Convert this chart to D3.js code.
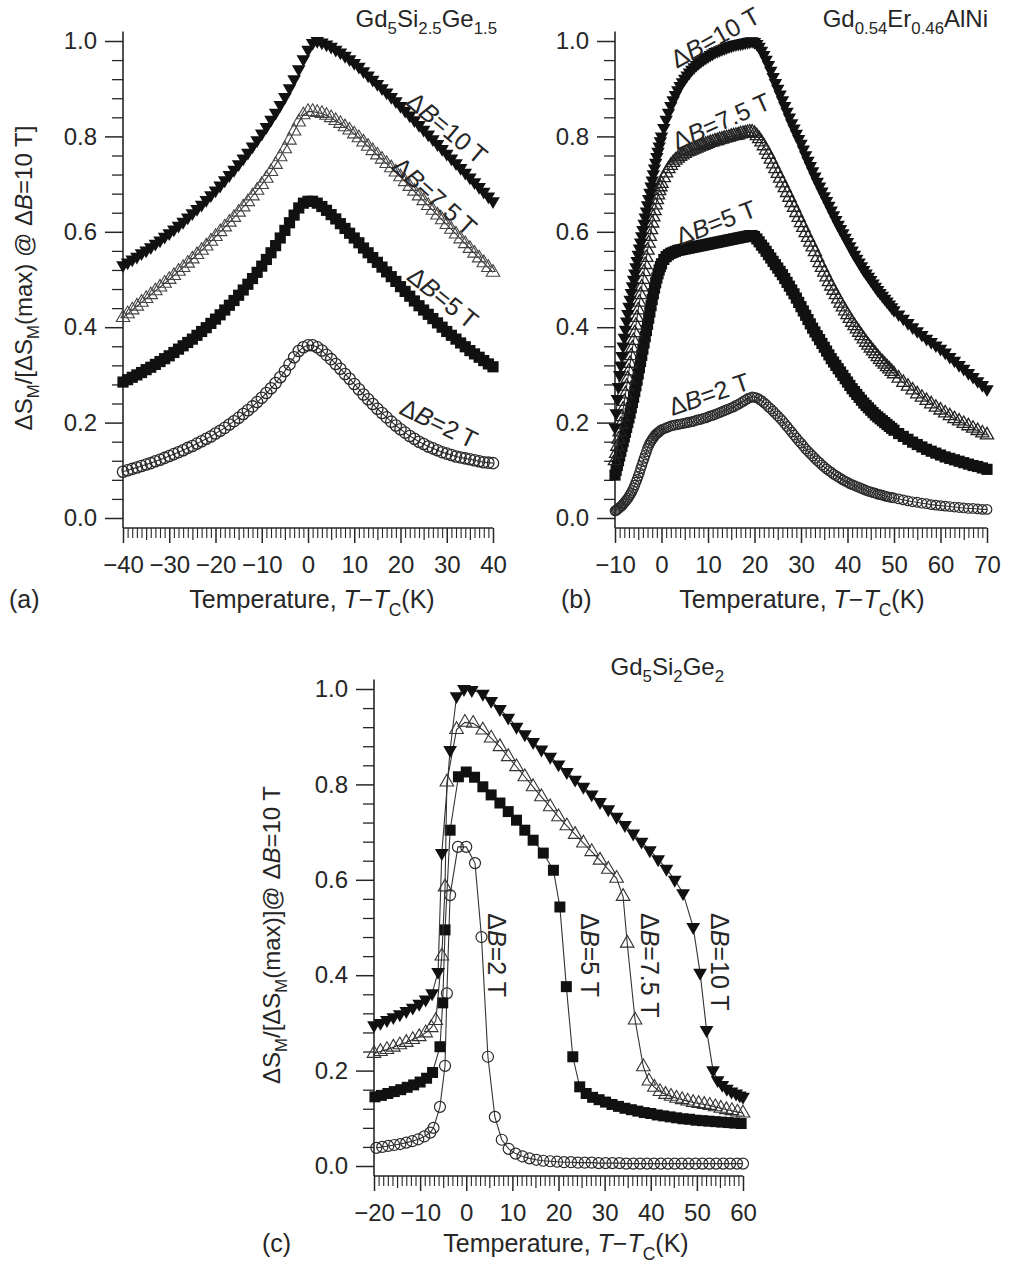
<!DOCTYPE html>
<html><head><meta charset="utf-8">
<script src="https://cdn.jsdelivr.net/npm/d3@7"></script>
<style>
body{margin:0;background:#fff}
svg{display:block}
text{font-family:"Liberation Sans",Arial,Helvetica,sans-serif;fill:#262626}
</style>
</head><body>
<svg id="chart" width="1009" height="1267"></svg>
<script>
// ---------------- DATA ----------------
// Panel (a) Gd5Si2.5Ge1.5
const TA = [-40,-39,-38,-37,-36,-35,-34,-33,-32,-31,-30,-29,-28,-27,-26,-25,-24,-23,-22,-21,-20,-19,-18,-17,-16,-15,-14,-13,-12,-11,-10,-9,-8,-7,-6,-5,-4,-3,-2,-1,0,1,2,3,4,5,6,7,8,9,10,11,12,13,14,15,16,17,18,19,20,21,22,23,24,25,26,27,28,29,30,31,32,33,34,35,36,37,38,39,40];
const A_10T = [0.530,0.536,0.542,0.548,0.555,0.561,0.568,0.575,0.582,0.590,
0.597,0.605,0.613,0.621,0.630,0.639,0.648,0.657,0.667,0.677,
0.687,0.697,0.708,0.719,0.730,0.742,0.754,0.766,0.779,0.792,
0.806,0.820,0.835,0.850,0.866,0.883,0.901,0.920,0.941,0.962,
0.982,0.996,1.000,0.997,0.993,0.988,0.982,0.976,0.969,0.962,
0.954,0.946,0.937,0.928,0.919,0.910,0.901,0.892,0.883,0.874,
0.864,0.854,0.844,0.834,0.824,0.814,0.804,0.794,0.784,0.774,
0.764,0.754,0.744,0.734,0.724,0.714,0.704,0.694,0.684,0.674,0.664];
const A_75T = [0.420,0.428,0.436,0.444,0.452,0.460,0.468,0.476,0.484,0.492,
0.500,0.508,0.517,0.525,0.534,0.543,0.552,0.561,0.570,0.580,
0.590,0.600,0.610,0.620,0.630,0.641,0.652,0.663,0.675,0.687,
0.699,0.712,0.726,0.741,0.757,0.774,0.792,0.811,0.830,0.845,
0.852,0.852,0.850,0.848,0.844,0.839,0.833,0.827,0.820,0.813,
0.805,0.797,0.788,0.779,0.770,0.761,0.752,0.743,0.734,0.725,
0.715,0.705,0.695,0.685,0.675,0.665,0.655,0.645,0.635,0.625,
0.615,0.605,0.595,0.585,0.575,0.565,0.555,0.545,0.535,0.525,0.515];
const A_5T = [0.285,0.290,0.295,0.300,0.305,0.311,0.316,0.322,0.328,0.334,
0.340,0.347,0.354,0.361,0.368,0.375,0.383,0.391,0.399,0.408,
0.417,0.426,0.436,0.446,0.456,0.467,0.478,0.490,0.502,0.515,
0.528,0.542,0.556,0.571,0.587,0.603,0.619,0.635,0.650,0.660,
0.664,0.664,0.660,0.653,0.645,0.636,0.627,0.617,0.607,0.597,
0.587,0.577,0.566,0.556,0.546,0.536,0.526,0.516,0.506,0.496,
0.485,0.475,0.465,0.455,0.445,0.436,0.427,0.418,0.409,0.400,
0.391,0.383,0.375,0.367,0.359,0.351,0.344,0.337,0.330,0.323,0.317];
const A_2T = [0.097,0.100,0.103,0.106,0.109,0.112,0.115,0.119,0.122,0.126,
0.130,0.134,0.138,0.142,0.147,0.151,0.156,0.161,0.166,0.171,
0.177,0.183,0.189,0.196,0.203,0.210,0.218,0.226,0.234,0.243,
0.252,0.262,0.272,0.283,0.295,0.308,0.322,0.337,0.350,0.358,
0.362,0.362,0.358,0.351,0.342,0.333,0.323,0.313,0.302,0.292,
0.281,0.270,0.259,0.249,0.239,0.229,0.220,0.211,0.202,0.194,
0.186,0.179,0.172,0.166,0.160,0.155,0.150,0.146,0.142,0.138,
0.135,0.132,0.129,0.127,0.125,0.123,0.121,0.119,0.117,0.116,0.115];

// Panel (b) Gd0.54Er0.46AlNi
const TB = [-10,-9.75,-9.5,-9.25,-9,-8.75,-8.5,-8.25,-8,-7.75,
-7.5,-7.25,-7,-6.75,-6.5,-6.25,-6,-5.75,-5.5,-5.25,
-5,-4.75,-4.5,-4.25,-4,-3.75,-3.5,-3.25,-3,-2.75,
-2.5,-2.25,-2,-1.75,-1.5,-1.25,-1,-0.75,-0.5,-0.25,
0,0.5,1,1.5,2,2.5,3,3.5,4,4.5,
5,5.5,6,6.5,7,7.5,8,8.5,9,9.5,
10,10.5,11,11.5,12,12.5,13,13.5,14,14.5,
15,15.5,16,16.5,17,17.5,18,18.5,19,19.5,
20,20.5,21,21.5,22,22.5,23,23.5,24,24.5,
25,25.5,26,26.5,27,27.5,28,28.5,29,29.5,
30,30.5,31,31.5,32,32.5,33,33.5,34,34.5,
35,35.5,36,36.5,37,37.5,38,38.5,39,39.5,
40,40.5,41,41.5,42,42.5,43,43.5,44,44.5,
45,45.5,46,46.5,47,47.5,48,48.5,49,49.5,
50,
51,52,53,54,55,56,57,58,59,60,
61,62,63,64,65,66,67,68,69,70];
const B_10T = [0.19,0.22,0.25,0.275,0.30,0.32,0.34,0.36,0.378,0.395,
0.412,0.428,0.443,0.458,0.472,0.486,0.50,0.513,0.526,0.539,
0.552,0.565,0.578,0.591,0.604,0.617,0.63,0.643,0.656,0.669,
0.682,0.695,0.708,0.721,0.733,0.745,0.757,0.768,0.779,0.79,
0.80,0.818,0.835,0.85,0.864,0.876,0.887,0.897,0.906,0.914,
0.921,0.928,0.934,0.94,0.945,0.95,0.954,0.958,0.962,0.965,
0.968,0.971,0.974,0.977,0.979,0.981,0.983,0.985,0.987,0.989,
0.99,0.992,0.993,0.994,0.995,0.996,0.997,0.998,0.999,1.0,
0.998,0.994,0.988,0.98,0.971,0.961,0.95,0.938,0.925,0.912,
0.90,0.888,0.876,0.864,0.852,0.84,0.828,0.817,0.806,0.795,
0.785,0.773,0.761,0.749,0.738,0.727,0.716,0.705,0.695,0.685,
0.675,0.665,0.655,0.645,0.635,0.625,0.615,0.606,0.597,0.588,
0.579,0.57,0.561,0.552,0.544,0.536,0.528,0.52,0.513,0.506,
0.499,0.492,0.485,0.478,0.472,0.466,0.46,0.454,0.448,0.442,
0.436,
0.427,0.418,0.409,0.40,0.392,0.384,0.376,0.369,0.362,0.355,
0.347,0.338,0.33,0.321,0.313,0.304,0.296,0.287,0.279,0.27];
const B_75T = [0.12,0.135,0.15,0.165,0.18,0.196,0.212,0.228,0.244,0.26,
0.276,0.292,0.308,0.324,0.34,0.356,0.372,0.388,0.404,0.42,
0.436,0.452,0.468,0.484,0.5,0.516,0.531,0.546,0.561,0.576,
0.59,0.604,0.618,0.631,0.644,0.656,0.667,0.677,0.686,0.694,
0.701,0.713,0.723,0.732,0.739,0.745,0.75,0.754,0.758,0.761,
0.764,0.767,0.769,0.771,0.773,0.775,0.777,0.779,0.781,0.783,
0.785,0.787,0.788,0.79,0.791,0.793,0.794,0.796,0.797,0.798,
0.8,0.801,0.802,0.803,0.805,0.806,0.807,0.808,0.809,0.809,
0.806,0.801,0.795,0.788,0.78,0.771,0.762,0.752,0.742,0.732,
0.722,0.712,0.702,0.692,0.682,0.672,0.661,0.651,0.64,0.63,
0.619,0.609,0.598,0.588,0.578,0.568,0.558,0.546,0.535,0.525,
0.515,0.505,0.495,0.486,0.477,0.468,0.459,0.45,0.442,0.434,
0.426,0.418,0.41,0.403,0.396,0.389,0.382,0.375,0.368,0.362,
0.356,0.35,0.344,0.338,0.332,0.327,0.322,0.317,0.312,0.307,
0.302,
0.293,0.284,0.276,0.268,0.26,0.253,0.246,0.239,0.232,0.226,
0.22,0.214,0.208,0.203,0.198,0.193,0.188,0.183,0.178,0.174];
const B_5T = [0.09,0.1,0.11,0.12,0.13,0.14,0.15,0.16,0.17,0.18,
0.19,0.2,0.21,0.22,0.231,0.242,0.253,0.265,0.277,0.289,
0.302,0.315,0.328,0.341,0.354,0.367,0.38,0.393,0.406,0.419,
0.432,0.445,0.458,0.47,0.482,0.493,0.503,0.512,0.52,0.527,
0.533,0.542,0.548,0.552,0.555,0.557,0.559,0.561,0.562,0.563,
0.564,0.565,0.566,0.567,0.568,0.569,0.57,0.571,0.572,0.573,
0.574,0.575,0.576,0.577,0.578,0.579,0.58,0.581,0.582,0.583,
0.584,0.585,0.586,0.587,0.588,0.589,0.59,0.591,0.592,0.592,
0.59,0.585,0.579,0.572,0.566,0.559,0.552,0.545,0.538,0.531,
0.524,0.517,0.51,0.502,0.494,0.486,0.478,0.47,0.461,0.452,
0.443,0.434,0.425,0.416,0.407,0.398,0.39,0.382,0.374,0.366,
0.358,0.35,0.342,0.334,0.327,0.32,0.313,0.306,0.299,0.292,
0.285,0.278,0.271,0.265,0.259,0.253,0.247,0.241,0.236,0.231,
0.226,0.221,0.216,0.212,0.208,0.204,0.2,0.196,0.192,0.188,
0.184,
0.177,0.171,0.165,0.159,0.154,0.149,0.144,0.14,0.136,0.132,
0.128,0.125,0.122,0.119,0.116,0.113,0.11,0.108,0.105,0.102];
const B_2T = [0.015,0.016,0.018,0.02,0.022,0.024,0.026,0.029,0.032,0.035,
0.038,0.041,0.045,0.049,0.053,0.058,0.063,0.069,0.075,0.081,
0.088,0.095,0.103,0.11,0.118,0.125,0.132,0.139,0.146,0.152,
0.157,0.161,0.165,0.168,0.172,0.175,0.177,0.179,0.181,0.183,
0.185,0.187,0.189,0.191,0.193,0.194,0.195,0.196,0.197,0.198,
0.199,0.2,0.201,0.202,0.203,0.205,0.206,0.207,0.209,0.21,
0.212,0.214,0.215,0.217,0.219,0.221,0.223,0.225,0.227,0.229,
0.231,0.233,0.236,0.238,0.241,0.244,0.247,0.25,0.252,0.254,
0.253,0.252,0.249,0.246,0.242,0.238,0.233,0.229,0.224,0.219,
0.214,0.209,0.204,0.198,0.192,0.186,0.18,0.174,0.168,0.162,
0.157,0.151,0.145,0.14,0.135,0.13,0.125,0.12,0.116,0.111,
0.107,0.103,0.099,0.096,0.092,0.089,0.086,0.083,0.08,0.077,
0.075,0.072,0.07,0.068,0.066,0.064,0.062,0.06,0.058,0.056,
0.055,0.053,0.052,0.05,0.049,0.048,0.046,0.045,0.044,0.043,
0.042,
0.04,0.038,0.036,0.034,0.033,0.031,0.03,0.028,0.027,0.026,
0.025,0.024,0.023,0.022,0.021,0.02,0.02,0.019,0.018,0.018];

// Panel (c) Gd5Si2Ge2
const TC_2T = [-19.5,-18.2,-16.9,-15.6,-14.3,-13,-11.7,-10.4,-9.1,-7.8,
-7.1,-5.7,-4.6,-4.2,-3.5,-1.8,0,1.9,3.3,4.7,
6.2,7.7,9.2,10.7,12.2,13.7,15.2,16.7,18.2,19.7,
21.2,22.7,24.2,25.7,27.2,28.7,30.2,31.7,33.2,34.7,
36.2,37.7,39.2,40.7,42.2,43.7,45.2,46.7,48.2,49.7,
51.2,52.7,54.2,55.7,57.2,58.7,60];
const C_2T = [0.038,0.040,0.042,0.044,0.046,0.049,0.052,0.056,0.062,0.070,
0.080,0.124,0.210,0.362,0.568,0.669,0.669,0.635,0.480,0.229,
0.103,0.055,0.036,0.026,0.020,0.016,0.013,0.011,0.010,0.009,
0.008,0.008,0.007,0.007,0.007,0.006,0.006,0.006,0.006,0.005,
0.005,0.005,0.005,0.005,0.005,0.005,0.005,0.005,0.005,0.005,
0.005,0.005,0.005,0.005,0.005,0.005,0.005];
const TC_5T = [-19.8,-18.4,-17,-15.6,-14.2,-12.8,-11.4,-10,-8.6,-7.3,
-5.7,-5.1,-4.6,-3.5,-1.7,0,1.8,3.6,5.4,7.3,
9.1,10.9,12.7,14.5,16.7,18.9,20.3,21.7,23.1,24.6,
26,27.4,28.8,30.2,31.6,33,34.4,35.8,37.2,38.6,
40,41.4,42.8,44.2,45.6,47,48.4,49.8,51.2,52.6,
54,55.4,56.8,58.2,59.6];
const C_5T = [0.145,0.148,0.152,0.156,0.160,0.165,0.170,0.176,0.184,0.196,
0.250,0.342,0.495,0.704,0.816,0.826,0.815,0.795,0.778,0.761,
0.743,0.725,0.704,0.683,0.656,0.620,0.543,0.376,0.229,0.166,
0.152,0.144,0.139,0.134,0.129,0.125,0.121,0.118,0.115,0.112,
0.110,0.107,0.105,0.103,0.101,0.099,0.098,0.096,0.095,0.094,
0.093,0.092,0.091,0.090,0.089];
const TC_75T = [-20,-18.6,-17.2,-15.8,-14.4,-13,-11.6,-10.2,-8.8,-7.6,
-6.6,-5.3,-4.6,-4.2,-2.1,-0.3,1.5,3.6,5.4,7.3,
9.1,10.9,12.7,14.5,16.3,18.2,20,21.8,23.6,25.4,
27.2,29,30.8,32.6,34,34.9,36.6,38.4,39.6,40.8,
42,43.2,44.4,45.6,46.8,48,49.2,50.4,51.6,52.8,
54,55.2,56.4,57.6,58.8,60];
const C_75T = [0.236,0.240,0.244,0.249,0.254,0.259,0.265,0.271,0.279,0.290,
0.305,0.440,0.585,0.805,0.915,0.930,0.928,0.914,0.897,0.879,
0.858,0.837,0.816,0.795,0.774,0.753,0.732,0.713,0.695,0.677,
0.659,0.641,0.622,0.603,0.565,0.467,0.306,0.208,0.178,0.165,
0.156,0.150,0.146,0.142,0.139,0.136,0.133,0.131,0.129,0.127,
0.124,0.121,0.118,0.116,0.113,0.111];
const TC_10T = [-20,-18.6,-17.2,-15.8,-14.4,-13,-11.6,-10.2,-8.8,-7.4,
-6.1,-5.3,-3.5,-2.1,-0.5,1.2,3.6,5.4,7.3,9.1,
10.9,12.7,14.5,16.3,18.2,20,21.8,23.6,25.4,27.2,
29,30.8,32.6,34.4,36.2,38,39.8,41.6,43.4,45.2,
47,49.2,50.7,52.1,53.5,54.5,55.5,56.5,57.5,58.5,
59.3,60];
const C_10T = [0.295,0.300,0.306,0.312,0.318,0.325,0.332,0.340,0.349,0.362,
0.407,0.656,0.872,0.985,1.0,0.998,0.99,0.975,0.958,0.94,
0.921,0.905,0.889,0.873,0.858,0.842,0.826,0.81,0.795,0.779,
0.763,0.748,0.732,0.715,0.697,0.68,0.662,0.643,0.623,0.6,
0.572,0.501,0.405,0.285,0.201,0.18,0.17,0.162,0.156,0.152,
0.148,0.145];

// Axis ticks
const yTicksMajor = [0,0.2,0.4,0.6,0.8,1.0];
const yTicksMinor = [0.04,0.08,0.12,0.16,0.24,0.28,0.32,0.36,0.44,0.48,0.52,0.56,0.64,0.68,0.72,0.76,0.84,0.88,0.92,0.96];
const xTicksA = [-40,-30,-20,-10,0,10,20,30,40];
const xTicksB = [-10,0,10,20,30,40,50,60,70];
const xTicksC = [-20,-10,0,10,20,30,40,50,60];
const fieldLabels = ["10","7.5","5","2"];

// ---------------- DRAWING ----------------
[[TA,A_10T],[TA,A_75T],[TA,A_5T],[TA,A_2T],[TB,B_10T],[TB,B_75T],[TB,B_5T],[TB,B_2T],
 [TC_2T,C_2T],[TC_5T,C_5T],[TC_75T,C_75T],[TC_10T,C_10T]].forEach((p,i)=>{
  if (p[0].length !== p[1].length) throw new Error("length mismatch series "+i+": "+p[0].length+" vs "+p[1].length);
});

const svg = d3.select('#chart');
svg.append('rect').attr('width',1009).attr('height',1267).attr('fill','#fff');
const INK = '#262626';
const FONT = '"Liberation Sans",Arial,Helvetica,sans-serif';

function rich(parent, parts, size) {
  const t = parent.append('text').attr('font-size', size);
  let shifted = 0;
  parts.forEach(p => {
    const str = p[0], st = p[1] || '';
    const ts = t.append('tspan').text(str);
    let dy = 0;
    if (st.includes('s')) { ts.attr('font-size', size*0.7); const target = size*0.3; dy = target - shifted; shifted = target; }
    else { dy = -shifted; shifted = 0; }
    if (dy) ts.attr('dy', dy);
    if (st.includes('i')) ts.attr('font-style','italic');
  });
  return t;
}

function drawPanel(p) {
  const x = d3.scaleLinear().domain(p.xDomain).range(p.xRange);
  const y = d3.scaleLinear().domain([0,1]).range(p.yRange);
  const g = svg.append('g');
  const x0 = p.xRange[0], x1 = p.xRange[1];
  const axisY = y(-0.021);
  const topY = y(1.02);

  // y axis
  g.append('g').attr('transform',`translate(${x0},0)`).attr('color',INK)
    .call(d3.axisLeft(y).tickValues(yTicksMinor).tickSize(11).tickFormat(''))
    .call(s=>{s.select('.domain').remove(); s.selectAll('line').attr('stroke-width',1.3);});
  g.append('g').attr('transform',`translate(${x0},0)`).attr('color',INK)
    .call(d3.axisLeft(y).tickValues(yTicksMajor).tickSize(18).tickPadding(8).tickFormat(d3.format('.1f')))
    .call(s=>{s.select('.domain').remove(); s.selectAll('line').attr('stroke-width',1.5);
      s.selectAll('text').attr('font-size',24).attr('font-family',FONT).attr('fill',INK);});
  // x axis
  const lo = p.xDomain[0], hi = p.xDomain[1];
  const minor = d3.range(lo, hi+1, 1).filter(v=>v%5!==0);
  const mid = d3.range(lo, hi+1, 1).filter(v=>v%5===0 && v%10!==0);
  g.append('g').attr('transform',`translate(0,${axisY})`).attr('color',INK)
    .call(d3.axisBottom(x).tickValues(minor).tickSize(10).tickFormat(''))
    .call(s=>{s.select('.domain').remove(); s.selectAll('line').attr('stroke-width',1.1);});
  g.append('g').attr('transform',`translate(0,${axisY})`).attr('color',INK)
    .call(d3.axisBottom(x).tickValues(mid).tickSize(12).tickFormat(''))
    .call(s=>{s.select('.domain').remove(); s.selectAll('line').attr('stroke-width',1.2);});
  g.append('g').attr('transform',`translate(0,${axisY})`).attr('color',INK)
    .call(d3.axisBottom(x).tickValues(p.xTicks).tickSize(15).tickPadding(13)
       .tickFormat(d => d < 0 ? '\u2212' + Math.abs(d) : String(d)))
    .call(s=>{s.select('.domain').remove(); s.selectAll('line').attr('stroke-width',1.5);
      s.selectAll('text').attr('font-size',24).attr('font-family',FONT).attr('fill',INK);});
  // axis lines
  g.append('line').attr('x1',x0).attr('x2',x0).attr('y1',topY).attr('y2',axisY).attr('stroke',INK).attr('stroke-width',1.6);
  g.append('line').attr('x1',x0).attr('x2',x1).attr('y1',axisY).attr('y2',axisY).attr('stroke',INK).attr('stroke-width',1.6);

  // series
  p.series.forEach(s => {
    const pts = d3.zip(s.T, s.V);
    if (s.line) {
      g.append('path').datum(pts)
        .attr('d', d3.line().x(d=>x(d[0])).y(d=>y(d[1])))
        .attr('fill','none').attr('stroke','#333').attr('stroke-width',1.1);
    }
    let gen, rot = '';
    if (s.m === 'down') { gen = d3.symbol().type(d3.symbolTriangle).size(s.size); rot = ' rotate(180)'; }
    else if (s.m === 'up') gen = d3.symbol().type(d3.symbolTriangle).size(s.size);
    else if (s.m === 'square') gen = d3.symbol().type(d3.symbolSquare).size(s.size);
    else gen = d3.symbol().type(d3.symbolCircle).size(s.size);
    const open = (s.m === 'up' || s.m === 'circle');
    g.append('g').selectAll('path').data(pts).join('path')
      .attr('d', gen)
      .attr('transform', d => `translate(${x(d[0])},${y(d[1])})${rot}`)
      .attr('fill', open ? 'none' : '#111')
      .attr('stroke', open ? (s.sc || '#2a2a2a') : 'none')
      .attr('stroke-width', open ? (s.sw || 1.2) : 0);
  });

  // curve labels
  p.labels.forEach((l,i) => {
    const lg = g.append('g').attr('transform',`translate(${x(l.T)},${y(l.v)}) rotate(${l.a})`);
    const t = rich(lg, [['\u0394'],['B','i'],['=' + fieldLabels[i] + p.sp + 'T']], 25);
    t.attr('text-anchor','middle').attr('y', 9);
  });

  // compound title
  rich(g, p.title, 24).attr('text-anchor','end').attr('x', p.titlePos[0]).attr('y', p.titlePos[1]);

  // x-axis title
  rich(g, [['Temperature, '],['T','i'],['\u2212'],['T','i'],['C','s'],['(K)']], 25)
    .attr('text-anchor','middle').attr('x', p.xTitle[0]).attr('y', p.xTitle[1]);
  // panel letter
  g.append('text').attr('font-size',25).attr('x',p.letterPos[0]).attr('y',p.letterPos[1]).text(p.letter);
  // y title
  if (p.yTitle) {
    const yg = g.append('g').attr('transform',`translate(${p.yTitlePos[0]},${p.yTitlePos[1]}) rotate(-90)`);
    rich(yg, p.yTitle, 24).attr('text-anchor','middle');
  }
}

drawPanel({
  xDomain:[-40,40], xRange:[123,493], yRange:[518,41], xTicks:xTicksA, sp:'\u2009',
  series:[
    {T:TA, V:A_2T, m:'circle', size:100, line:true, sw:1.3},
    {T:TA, V:A_5T, m:'square', size:125, line:false},
    {T:TA, V:A_75T, m:'up', size:78, line:true, sc:'#444', sw:1.1},
    {T:TA, V:A_10T, m:'down', size:80, line:false}
  ],
  labels:[{T:30.1,v:0.818,a:40},{T:27.4,v:0.675,a:42},{T:29.2,v:0.462,a:39},{T:28.3,v:0.199,a:26}],
  title:[['Gd'],['5','s'],['Si'],['2.5','s'],['Ge'],['1.5','s']], titlePos:[497,27],
  xTitle:[312,608], letter:'(a)', letterPos:[9,608],
  yTitle:[['\u0394S'],['M','s'],['/[\u0394S'],['M','s'],['(max) @ \u0394'],['B','i'],['=10 T]']], yTitlePos:[32,278]
});

drawPanel({
  xDomain:[-10,70], xRange:[615,987], yRange:[518,41], xTicks:xTicksB, sp:' ',
  series:[
    {T:TB, V:B_2T, m:'circle', size:72, line:true, sw:1.2},
    {T:TB, V:B_5T, m:'square', size:125, line:true},
    {T:TB, V:B_75T, m:'up', size:75, line:true, sc:'#222', sw:1.3},
    {T:TB, V:B_10T, m:'down', size:78, line:true}
  ],
  labels:[{T:11.5,v:1.008,a:-29},{T:12.8,v:0.832,a:-24},{T:11.7,v:0.62,a:-21},{T:10.2,v:0.26,a:-19}],
  title:[['Gd'],['0.54','s'],['Er'],['0.46','s'],['AlNi']], titlePos:[988,27],
  xTitle:[802,608], letter:'(b)', letterPos:[561,608]
});

drawPanel({
  xDomain:[-20,60], xRange:[374,743], yRange:[1166,689], xTicks:xTicksC, sp:' ',
  series:[
    {T:TC_2T, V:C_2T, m:'circle', size:95, line:true, sw:1.2},
    {T:TC_5T, V:C_5T, m:'square', size:121, line:true},
    {T:TC_75T, V:C_75T, m:'up', size:80, line:true, sc:'#333', sw:1.1},
    {T:TC_10T, V:C_10T, m:'down', size:82, line:true}
  ],
  labels:[{T:55,v:0.428,a:90},{T:39.8,v:0.421,a:90},{T:26.8,v:0.442,a:90},{T:6.7,v:0.442,a:90}],
  title:[['Gd'],['5','s'],['Si'],['2','s'],['Ge'],['2','s']], titlePos:[724,675],
  xTitle:[566,1252], letter:'(c)', letterPos:[262,1252],
  yTitle:[['\u0394S'],['M','s'],['/[\u0394S'],['M','s'],['(max)]@ \u0394'],['B','i'],['=10 T']], yTitlePos:[280,935]
});
</script>
</body></html>
